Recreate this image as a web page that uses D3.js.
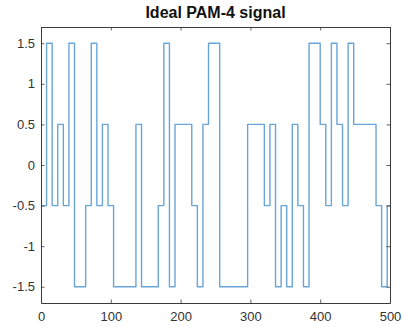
<!DOCTYPE html>
<html><head><meta charset="utf-8">
<script src="https://cdn.jsdelivr.net/npm/d3@7"></script>
<style>
html,body{margin:0;padding:0;background:#fff;}
svg{display:block;font-family:"Liberation Sans",Arial,sans-serif;}
</style></head>
<body><svg id="c" width="402" height="327"></svg>
<script>
// PAM-4 symbol levels, 8 samples per symbol
const symbolLength = 8;
const levels = [-0.5,1.5,-0.5,0.5,-0.5,1.5,-1.5,-1.5,-0.5,1.5,
  -0.5,0.5,-0.5,-1.5,-1.5,-1.5,-1.5,0.5,-1.5,-1.5,
  -1.5,-0.5,1.5,-1.5,0.5,0.5,0.5,-0.5,-1.5,0.5,
  1.5,1.5,-1.5,-1.5,-1.5,-1.5,-1.5,0.5,0.5,0.5,
  -0.5,0.5,-1.5,-0.5,-1.5,0.5,-0.5,-1.5,1.5,1.5,
  0.5,-0.5,1.5,0.5,-0.5,1.5,0.5,0.5,0.5,0.5,
  -0.5,-1.5,-0.5];
const xTicks = [0,100,200,300,400,500];
const yTicks = [-1.5,-1,-0.5,0,0.5,1,1.5];
const xDomain = [0,500];
const yDomain = [-1.7,1.7];
const titleText = "Ideal PAM-4 signal";

const svg = d3.select("#c");
const m = {l:41, r:390, t:27, b:303};
const x = d3.scaleLinear().domain(xDomain).range([m.l, m.r]);
const y = d3.scaleLinear().domain(yDomain).range([m.b, m.t]);

const pts = levels.map((v,i)=>[i*symbolLength, v]);
pts.push([xDomain[1], levels[levels.length-1]]);

const axisColor = "#3a3a3a";
const tickLen = 3.5;

// line
svg.append("path")
  .datum(pts)
  .attr("fill","none")
  .attr("stroke","#6aa5d8")
  .attr("stroke-width",1.4)
  .attr("stroke-linejoin","round")
  .attr("d", d3.line().x(d=>x(d[0])).y(d=>y(d[1])).curve(d3.curveStepAfter));

// axes
const fmt = d => String(d);
const ax = [
  d3.axisBottom(x).tickValues(xTicks).tickSizeInner(-tickLen).tickSizeOuter(0).tickPadding(9).tickFormat(fmt),
  d3.axisTop(x).tickValues(xTicks).tickSizeInner(-tickLen).tickSizeOuter(0).tickFormat(""),
  d3.axisLeft(y).tickValues(yTicks).tickSizeInner(-tickLen).tickSizeOuter(0).tickPadding(6).tickFormat(fmt),
  d3.axisRight(y).tickValues(yTicks).tickSizeInner(-tickLen).tickSizeOuter(0).tickFormat("")
];
const pos = [`translate(0,${m.b})`,`translate(0,${m.t})`,`translate(${m.l},0)`,`translate(${m.r},0)`];
ax.forEach((a,i)=>{
  const g = svg.append("g").attr("transform",pos[i]).call(a);
  g.select(".domain").attr("stroke",axisColor).attr("stroke-width",1);
  g.selectAll(".tick line").attr("stroke",axisColor).attr("stroke-width",0.8);
  g.selectAll(".tick text").attr("fill","#333").attr("font-size",13).attr("font-family",'"Liberation Sans",Arial,sans-serif');
});

// title
svg.append("text")
  .attr("x",(m.l+m.r)/2).attr("y",18)
  .attr("text-anchor","middle")
  .attr("font-size",16).attr("font-weight","bold").attr("fill","#111")
  .text(titleText);
</script></body></html>
